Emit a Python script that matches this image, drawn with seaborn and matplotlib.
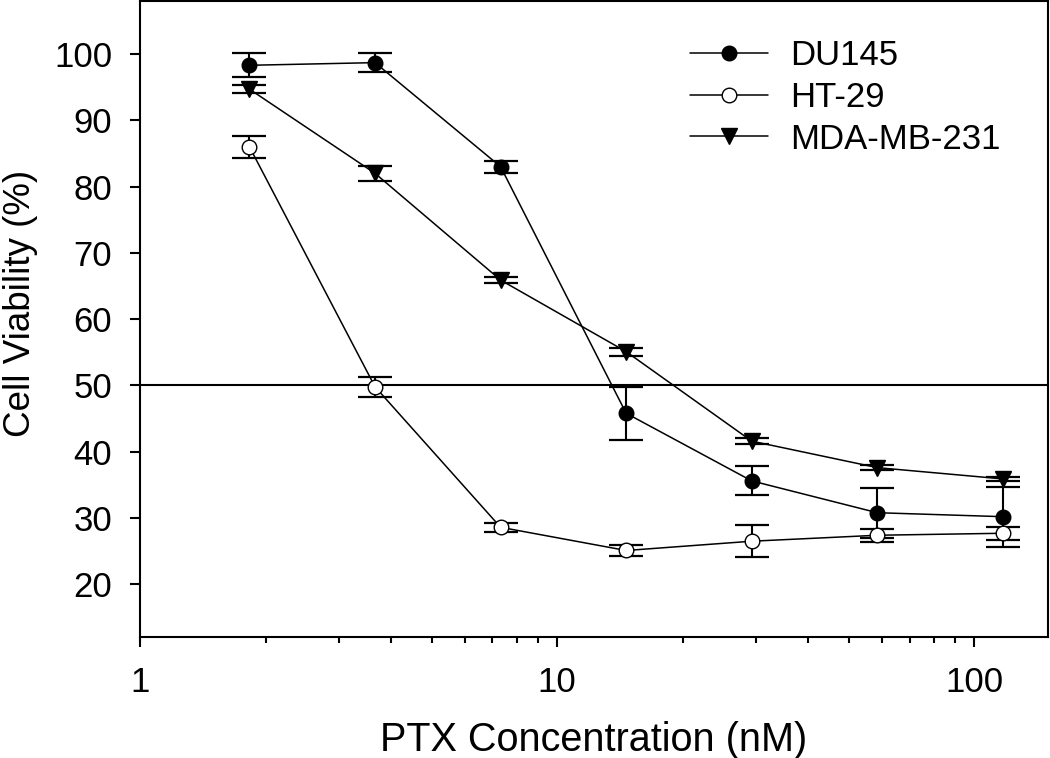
import numpy as np
import pandas as pd
import matplotlib
matplotlib.use("Agg")
import matplotlib.pyplot as plt
import matplotlib.ticker as mticker
import seaborn as sns

# PTX concentrations (nM), two-fold dilutions
conc = [1.83, 3.66, 7.32, 14.64, 29.28, 58.55, 117.1]

# Cell viability (%) and error (SD)
du145 = [98.3, 98.7, 83.0, 45.8, 35.6, 30.8, 30.2]
du145_err = [1.8, 1.4, 0.9, 4.0, 2.2, 3.8, 4.5]
ht29 = [86.0, 49.8, 28.6, 25.1, 26.5, 27.4, 27.7]
ht29_err = [1.7, 1.5, 0.7, 0.8, 2.4, 1.0, 1.0]
mda = [94.7, 82.0, 65.9, 55.1, 41.6, 37.6, 35.9]
mda_err = [0.6, 1.1, 0.4, 0.6, 0.4, 0.4, 0.3]

series = ["DU145", "HT-29", "MDA-MB-231"]
values = [du145, ht29, mda]
errors = [du145_err, ht29_err, mda_err]
markers = ["o", "o", "v"]
faces = ["black", "white", "black"]

sns.set_style("ticks")
plt.rcParams["font.family"] = ["Liberation Sans", "DejaVu Sans"]
plt.rcParams["text.color"] = "black"
plt.rcParams["axes.labelcolor"] = "black"
plt.rcParams["xtick.color"] = "black"
plt.rcParams["ytick.color"] = "black"

fig = plt.figure(figsize=(10.5, 7.58), dpi=100)
ax = fig.add_axes([0.1333, 0.1592, 0.8645, 0.8395])

for name, y, err, m, fc in zip(series, values, errors, markers, faces):
    df = pd.DataFrame({"conc": conc, "viab": y})
    ax.errorbar(conc, y, yerr=err, fmt="none", ecolor="black",
                elinewidth=1.5, capsize=12.5, capthick=1.6, zorder=2)
    sns.lineplot(data=df, x="conc", y="viab", ax=ax, color="black",
                 linewidth=1.1, marker=m, markersize=10.5 if m == "o" else 11,
                 markerfacecolor=fc, markeredgecolor="black",
                 markeredgewidth=1.0, label=name, zorder=3)

# 50% reference line
ax.axhline(50, color="black", linewidth=1.5, zorder=1)

ax.set_xscale("log")
ax.set_xlim(1, 150)
ax.set_ylim(12, 108)
ax.set_yticks(range(20, 101, 10))
ax.xaxis.set_major_locator(mticker.FixedLocator([1, 10, 100]))
ax.xaxis.set_major_formatter(mticker.FuncFormatter(lambda v, p: f"{v:g}"))
ax.xaxis.set_minor_locator(mticker.LogLocator(base=10, subs=np.arange(2, 10)))
ax.xaxis.set_minor_formatter(mticker.NullFormatter())

ax.set_xlabel("PTX Concentration (nM)", fontsize=28.5, labelpad=16)
ax.set_ylabel("Cell Viability (%)", fontsize=26.5)
ax.yaxis.set_label_coords(-0.112, 0.524)
ax.tick_params(axis="both", which="major", labelsize=25, width=1.5,
               length=7, color="black", pad=13)
ax.tick_params(axis="x", which="major", length=7.5, pad=13)
ax.tick_params(axis="x", which="minor", width=1.5, length=4.5, color="black")

for s in ax.spines.values():
    s.set_linewidth(1.5)
    s.set_color("black")

leg = ax.legend(loc="upper left", bbox_to_anchor=(0.571, 0.989), frameon=False,
                fontsize=25, handlelength=2.25, handletextpad=0.66,
                labelspacing=0.25)

fig.savefig("out.png", dpi=100)
